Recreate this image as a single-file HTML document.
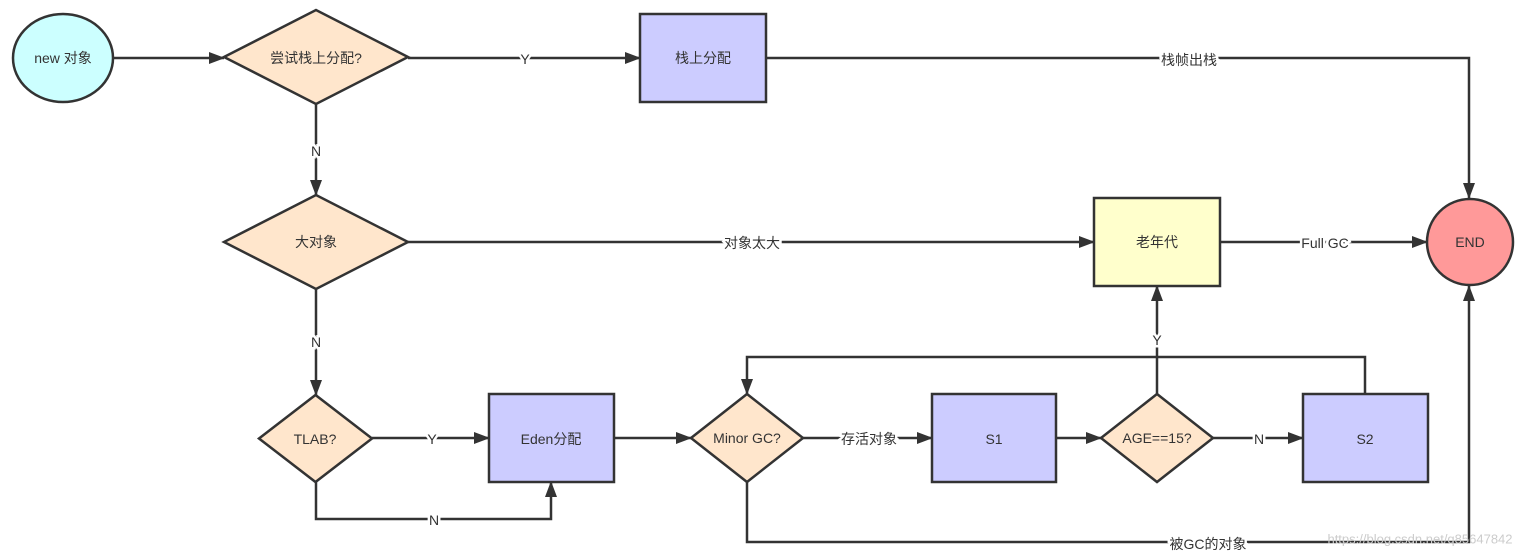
<!DOCTYPE html>
<html><head><meta charset="utf-8"><style>
html,body{margin:0;padding:0;background:#fff;}
svg{display:block;}
text{font-family:"Liberation Sans","Noto Sans CJK SC",sans-serif;font-size:14px;fill:#333;text-anchor:middle;dominant-baseline:central;}
.lbl{stroke:#fff;stroke-width:5px;paint-order:stroke;}
.n{stroke:#333;stroke-width:2.5;}
.e{stroke:#333;stroke-width:2.5;fill:none;}
</style></head><body>
<svg width="1527" height="557" viewBox="0 0 1527 557" xmlns="http://www.w3.org/2000/svg">
<defs><marker id="a" markerWidth="10" markerHeight="8" refX="9" refY="4" orient="auto" markerUnits="userSpaceOnUse"><path d="M0,0 L10,4 L0,8 Z" fill="#333"/></marker>
<marker id="b" markerWidth="16" markerHeight="12" refX="15" refY="6" orient="auto" markerUnits="userSpaceOnUse"><path d="M0,0 L16,6 L0,12 Z" fill="#333"/></marker></defs>

<!-- edges -->
<path class="e" d="M113,58 H224" marker-end="url(#b)"/>
<path class="e" d="M408,58 H640" marker-end="url(#b)"/>
<path class="e" d="M766,58 H1469 V198" marker-end="url(#b)"/>
<path class="e" d="M316,104 V195" marker-end="url(#b)"/>
<path class="e" d="M408,242 H1094" marker-end="url(#b)"/>
<path class="e" d="M1220,242 H1427" marker-end="url(#b)"/>
<path class="e" d="M316,289 V395" marker-end="url(#b)"/>
<path class="e" d="M372,438 H489" marker-end="url(#b)"/>
<path class="e" d="M316,482 V519 H551 V482" marker-end="url(#b)"/>
<path class="e" d="M614,438 H691" marker-end="url(#b)"/>
<path class="e" d="M803,438 H932" marker-end="url(#b)"/>
<path class="e" d="M1056,438 H1101" marker-end="url(#b)"/>
<path class="e" d="M1213,438 H1303" marker-end="url(#b)"/>
<path class="e" d="M1157,394 V286" marker-end="url(#b)"/>
<path class="e" d="M1365,394 V357 H747 V394" marker-end="url(#b)"/>
<path class="e" d="M747,482 V542 H1469 V286" marker-end="url(#b)"/>

<!-- nodes -->
<ellipse class="n" cx="63" cy="58" rx="50" ry="44" fill="#ccffff"/>
<text x="63" y="58">new 对象</text>
<polygon class="n" points="224,57 316,10 408,57 316,104" fill="#ffe6cc"/>
<text x="316" y="58">尝试栈上分配?</text>
<rect class="n" x="640" y="14" width="126" height="88" fill="#ccccff"/>
<text x="703" y="58">栈上分配</text>
<polygon class="n" points="224,242 316,195 408,242 316,289" fill="#ffe6cc"/>
<text x="316" y="242">大对象</text>
<polygon class="n" points="259,438.5 315.5,395 372,438.5 315.5,482" fill="#ffe6cc"/>
<text x="315" y="439">TLAB?</text>
<rect class="n" x="489" y="394" width="125" height="88" fill="#ccccff"/>
<text x="551" y="439">Eden分配</text>
<polygon class="n" points="691,438 747,394 803,438 747,482" fill="#ffe6cc"/>
<text x="747" y="438">Minor GC?</text>
<rect class="n" x="932" y="394" width="124" height="88" fill="#ccccff"/>
<text x="994" y="439">S1</text>
<polygon class="n" points="1101,438 1157,394 1213,438 1157,482" fill="#ffe6cc"/>
<text x="1157" y="438">AGE==15?</text>
<rect class="n" x="1303" y="394" width="125" height="88" fill="#ccccff"/>
<text x="1365" y="439">S2</text>
<rect class="n" x="1094" y="198" width="126" height="88" fill="#ffffcc"/>
<text x="1157" y="242">老年代</text>
<circle class="n" cx="1470" cy="242" r="43" fill="#ff9999"/>
<text x="1470" y="242">END</text>

<!-- labels -->
<text class="lbl" x="525" y="59">Y</text>
<text class="lbl" x="1189" y="60">栈帧出栈</text>
<text class="lbl" x="316" y="151">N</text>
<text class="lbl" x="752" y="243">对象太大</text>
<text class="lbl" x="1325" y="243">Full GC</text>
<text class="lbl" x="316" y="342">N</text>
<text class="lbl" x="432" y="439">Y</text>
<text class="lbl" x="434" y="520">N</text>
<text class="lbl" x="869" y="439">存活对象</text>
<text class="lbl" x="1259" y="439">N</text>
<text class="lbl" x="1157" y="340">Y</text>
<text class="lbl" x="1208" y="544">被GC的对象</text>
<text x="1420" y="539" style="fill:#ccc;font-size:13px;">https://blog.csdn.net/q85647842</text>
</svg>
</body></html>
